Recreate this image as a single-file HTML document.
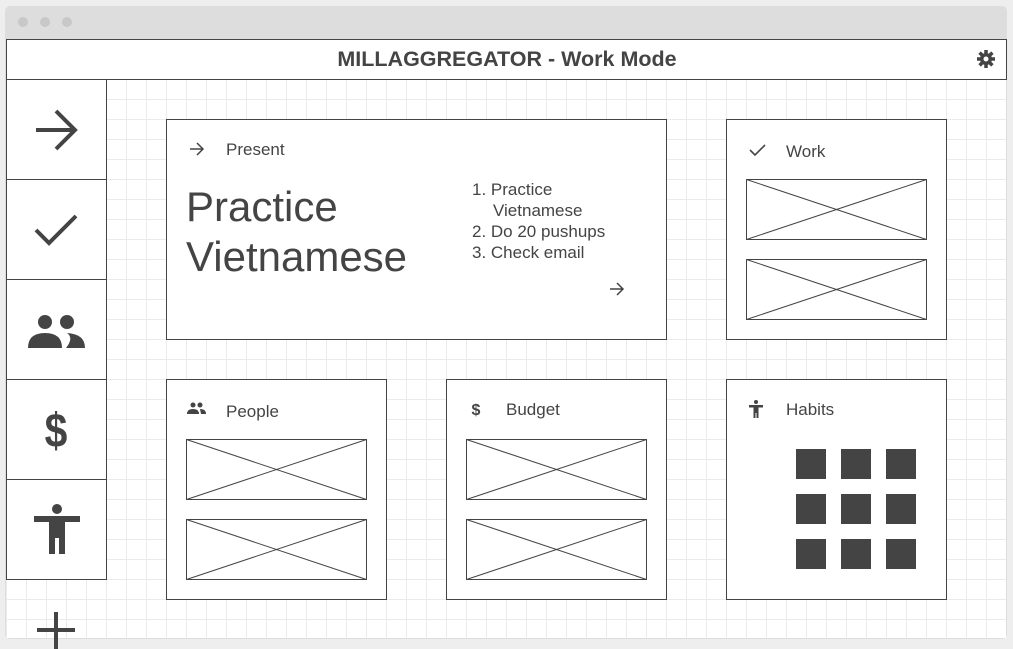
<!DOCTYPE html>
<html><head><style>
html,body{margin:0;padding:0;background:#eeeeee;width:1013px;height:649px;overflow:hidden}
text{font-family:"Liberation Sans",sans-serif;fill:#444}
</style></head><body>
<svg width="1013" height="649" viewBox="0 0 1013 649" xmlns="http://www.w3.org/2000/svg">
<defs>
<pattern id="g" x="6" y="79" width="20" height="20" patternUnits="userSpaceOnUse">
<rect width="20" height="20" fill="#fff"/>
<path d="M0 0.5H20M0.5 0V20" stroke="#ebebeb" stroke-width="1"/>
</pattern>
<g id="xb"><rect x="0.5" y="0.5" width="180" height="60" fill="#fff" stroke="#444"/><path d="M0.5 0.5L180.5 60.5M0.5 60.5L180.5 0.5" stroke="#444" stroke-width="1"/></g>
</defs>
<rect x="5" y="6" width="1002" height="633" rx="5" fill="#dddddd"/>
<circle cx="23" cy="22" r="5" fill="#c8c8c8"/><circle cx="45" cy="22" r="5" fill="#c8c8c8"/><circle cx="67" cy="22" r="5" fill="#c8c8c8"/>
<rect x="6" y="39" width="1000" height="599" fill="url(#g)"/>
<rect x="6.5" y="39.5" width="1000" height="40" fill="#fff" stroke="#444"/>
<text x="507" y="66" text-anchor="middle" font-size="21.5" font-weight="bold">MILLAGGREGATOR - Work Mode</text>
<g transform="translate(986,59)" fill="#444"><circle r="6"/><g stroke="#444" stroke-width="3.5"><path d="M0-9V9M-9 0H9M-6.4-6.4L6.4 6.4M-6.4 6.4L6.4-6.4"/></g><circle r="2.5" fill="#fff"/></g>
<g fill="#fff" stroke="#444">
<rect x="6.5" y="79.5" width="100" height="100"/><rect x="6.5" y="179.5" width="100" height="100"/><rect x="6.5" y="279.5" width="100" height="100"/><rect x="6.5" y="379.5" width="100" height="100"/><rect x="6.5" y="479.5" width="100" height="100"/>
</g>
<path d="M36 130H74M56 111L75 130L56 149" stroke="#444" stroke-width="4" fill="none"/>
<path d="M36 230L49 243L76 216" stroke="#444" stroke-width="4" fill="none"/>
<g fill="#444"><circle cx="45" cy="322" r="7"/><circle cx="67" cy="322" r="7"/><path d="M28 348Q28 333 45 333Q62 333 62 348Z"/><path d="M66 348H85Q85 334 67 333Q74 338 66 348Z"/></g>
<text x="56" y="447" text-anchor="middle" font-size="48" font-weight="bold" transform="translate(56 0) scale(0.85 1) translate(-56 0)">$</text>
<g fill="#444"><circle cx="57" cy="509" r="5"/><rect x="34" y="516" width="46" height="6"/><rect x="49" y="516" width="16" height="22"/><rect x="49" y="536" width="6" height="18"/><rect x="59" y="536" width="6" height="18"/></g>
<path d="M37 630H75M56 612V649" stroke="#444" stroke-width="4"/>
<g fill="#fff" stroke="#444">
<rect x="166.5" y="119.5" width="500" height="220"/>
<rect x="726.5" y="119.5" width="220" height="220"/>
<rect x="166.5" y="379.5" width="220" height="220"/>
<rect x="446.5" y="379.5" width="220" height="220"/>
<rect x="726.5" y="379.5" width="220" height="220"/>
</g>
<path d="M190 149H203M197 143L203 149L197 155" stroke="#444" stroke-width="1.5" fill="none"/>
<text x="226" y="155" font-size="17">Present</text>
<text x="186" y="221" font-size="42">Practice</text>
<text x="186" y="271" font-size="42">Vietnamese</text>
<g font-size="17"><text x="472" y="195">1. Practice</text><text x="493" y="216">Vietnamese</text><text x="472" y="237">2. Do 20 pushups</text><text x="472" y="258">3. Check email</text></g>
<path d="M610 289H623M617 283L623 289L617 295" stroke="#444" stroke-width="1.5" fill="none"/>
<path d="M750 150L755 155L765 145" stroke="#444" stroke-width="1.6" fill="none"/>
<text x="786" y="157" font-size="17">Work</text>
<use href="#xb" x="746" y="179"/><use href="#xb" x="746" y="259"/>
<g fill="#444"><circle cx="193" cy="405" r="2.5"/><circle cx="200" cy="405" r="2.5"/><path d="M187 414Q187 409 193 409Q199 409 199 414Z"/><path d="M201 414H206Q206 409 200 409Z"/></g>
<text x="226" y="417" font-size="17">People</text>
<use href="#xb" x="186" y="439"/><use href="#xb" x="186" y="519"/>
<text x="476" y="415" text-anchor="middle" font-size="16" font-weight="bold">$</text>
<text x="506" y="415" font-size="17">Budget</text>
<use href="#xb" x="466" y="439"/><use href="#xb" x="466" y="519"/>
<g fill="#444"><circle cx="756" cy="402" r="2"/><rect x="749" y="405" width="14" height="2.5"/><rect x="753.5" y="405" width="5" height="8"/><rect x="753.5" y="412" width="2" height="6"/><rect x="756.5" y="412" width="2" height="6"/></g>
<text x="786" y="415" font-size="17">Habits</text>
<g fill="#444">
<rect x="796" y="449" width="30" height="30"/><rect x="841" y="449" width="30" height="30"/><rect x="886" y="449" width="30" height="30"/>
<rect x="796" y="494" width="30" height="30"/><rect x="841" y="494" width="30" height="30"/><rect x="886" y="494" width="30" height="30"/>
<rect x="796" y="539" width="30" height="30"/><rect x="841" y="539" width="30" height="30"/><rect x="886" y="539" width="30" height="30"/>
</g>
</svg>
</body></html>
